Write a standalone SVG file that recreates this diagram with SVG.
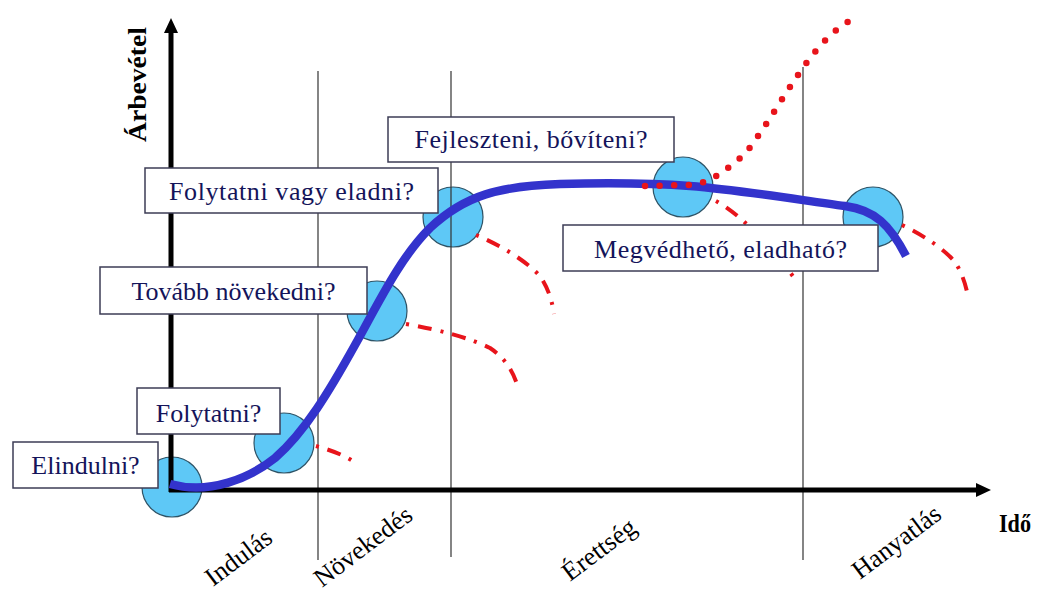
<svg xmlns="http://www.w3.org/2000/svg" width="1047" height="595" viewBox="0 0 1047 595">
<defs>
<style>
.serif{font-family:'Liberation Serif','Times New Roman','DejaVu Serif',serif}
.bub{fill:#5EC8F6;stroke:#2E5366;stroke-width:1.2}
.vl{stroke:#333;stroke-width:1.2;fill:none}
.ax{stroke:#000;stroke-width:5;fill:none}
.box{fill:#fff;stroke:#3c3c55;stroke-width:1.5}
.bt{font-size:26px;fill:#14145A;text-anchor:middle}
.ph{font-size:26px;fill:#000}
.dd{fill:none;stroke:#E8141B;stroke-width:4;stroke-dasharray:3 9 14 9}
.dot{fill:none;stroke:#E8141B;stroke-width:6.5;stroke-linecap:round;stroke-dasharray:0 14.6}
</style>
</defs>
<rect width="1047" height="595" fill="#fff"/>
<g id="bubbles">
<circle id="c1" class="bub" cx="172" cy="487" r="30"/>
<circle id="c2" class="bub" cx="284" cy="443" r="30"/>
<circle id="c3" class="bub" cx="377" cy="311" r="30"/>
<circle id="c4" class="bub" cx="453" cy="217" r="30"/>
<circle id="c5" class="bub" cx="683" cy="187" r="30"/>
<circle id="c6" class="bub" cx="873" cy="217" r="30"/>
</g>
<g id="phase-lines">
<line class="vl" x1="318" y1="71" x2="318" y2="560"/>
<line class="vl" x1="451" y1="71" x2="451" y2="557"/>
<line class="vl" x1="803" y1="67" x2="803" y2="560"/>
</g>
<g id="axes">
<line class="ax" x1="171" y1="492" x2="171" y2="30"/>
<polygon points="171,18 164,33 178,33" fill="#000"/>
<line class="ax" x1="169" y1="490" x2="977" y2="490"/>
<polygon points="991,490 976,483 976,497" fill="#000"/>
<text class="serif" x="0" y="0" transform="translate(146,142) rotate(-90)" font-weight="bold" font-size="25" textLength="115" lengthAdjust="spacingAndGlyphs" fill="#000">Árbevétel</text>
<text class="serif" x="999" y="532" font-weight="bold" font-size="26" textLength="32" lengthAdjust="spacingAndGlyphs" fill="#000">Idő</text>
</g>
<g id="phase-labels">
<text class="serif ph" transform="translate(213,587) rotate(-37)">Indulás</text>
<text class="serif ph" transform="translate(322,588) rotate(-37)">Növekedés</text>
<text class="serif ph" transform="translate(570,582) rotate(-37)">Érettség</text>
<text class="serif ph" transform="translate(860,580) rotate(-37)">Hanyatlás</text>
</g>
<g id="connectors">
<path id="lifecycle" d="M170,484 C210,495 250,478 275,458 C305,432 330,390 355,345 C380,300 400,258 430,228 C465,195 500,186 560,184 C600,183 650,183 690,186 C740,190 800,200 845,206 C875,210 890,225 906,256" fill="none" stroke="#3333CC" stroke-width="8.5" stroke-linecap="butt"/>
<path class="dd" d="M316,446 C330,450 345,455 357,464"/>
<path class="dd" d="M406,324 C440,330 470,338 490,348 C505,358 512,370 517,384"/>
<path class="dd" d="M476,235 C500,245 525,260 540,276 C548,288 552,300 554,314"/>
<path class="dd" d="M716,201 C740,214 770,245 795,279"/>
<path class="dd" d="M902,225 C925,236 945,250 955,262 C962,273 966,285 968,297"/>
<path class="dot" d="M645,186 L690,185 C712,183 728,168 745,154 C765,128 782,98 800,72 C815,50 832,30 853,19"/>
</g>
<g id="q1"><rect class="box" x="13" y="442" width="145" height="46"/><text class="serif bt" x="85.5" y="474">Elindulni?</text></g>
<g id="q2"><rect class="box" x="137" y="388" width="143" height="46"/><text class="serif bt" x="208.5" y="422">Folytatni?</text></g>
<g id="q3"><rect class="box" x="100" y="267" width="267" height="47"/><text class="serif bt" x="233.5" y="300">Tovább növekedni?</text></g>
<g id="q4"><rect class="box" x="145" y="168" width="293" height="45"/><text class="serif bt" x="291.5" y="200" textLength="245">Folytatni vagy eladni?</text></g>
<g id="q5"><rect class="box" x="388" y="117" width="286" height="45"/><text class="serif bt" x="531" y="148" textLength="233">Fejleszteni, bővíteni?</text></g>
<g id="q6"><rect class="box" x="563" y="225" width="315" height="46"/><text class="serif bt" x="720.5" y="258" textLength="253">Megvédhető, eladható?</text></g>
</svg>
